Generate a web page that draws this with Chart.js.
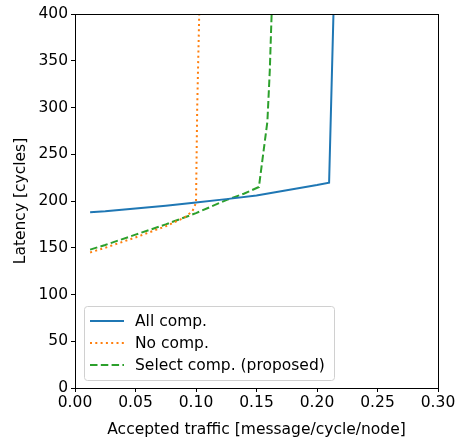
<!DOCTYPE html>
<html>
<head>
<meta charset="utf-8">
<script src="https://cdn.jsdelivr.net/npm/chart.js@4"></script>
<style>
  html, body { margin: 0; padding: 0; background: #fff; }
  #wrap { width: 462px; height: 443px; }
</style>
</head>
<body>
<div id="wrap"><canvas id="latencyChart" width="462" height="443"></canvas></div>
<script>
// values
const allCompX = [0.0125, 0.025, 0.05, 0.075, 0.1, 0.125, 0.15, 0.175, 0.2, 0.21, 0.214];
const allCompY = [188, 189, 192, 195, 198.5, 202, 206, 211.5, 217, 219.5, 420];

const noCompX = [0.0125, 0.025, 0.05, 0.075, 0.09, 0.097, 0.1, 0.101, 0.103];
const noCompY = [145, 150, 161, 173, 182, 189, 198, 300, 420];

const selCompX = [0.0125, 0.025, 0.05, 0.075, 0.1, 0.125, 0.14, 0.152, 0.159, 0.161, 0.163];
const selCompY = [148, 153, 164, 175, 187, 201, 208, 215, 285, 340, 420];

const xTicks = [0, 0.05, 0.1, 0.15, 0.2, 0.25, 0.3];
const yTicks = [0, 50, 100, 150, 200, 250, 300, 350, 400];

const font = { family: 'DejaVu Sans', size: 15.5 };

function pts(xs, ys) {
    return xs.map((x, i) => ({ x: x, y: ys[i] }));
}

// matplotlib-style frame and legend box drawn inside the plot area
const framePlugin = {
    id: 'frame',
    afterDraw(chart) {
        const ctx = chart.ctx;
        const a = chart.chartArea;
        ctx.save();
        ctx.strokeStyle = '#000';
        ctx.lineWidth = 1;
        ctx.strokeRect(a.left + 0.5, a.top + 0.5, a.right - a.left, a.bottom - a.top);

        // legend
        const bx = a.left + 9, by = a.bottom - 82, bw = 250, bh = 74;
        ctx.fillStyle = 'rgba(255,255,255,0.8)';
        ctx.strokeStyle = '#d0d0d0';
        ctx.beginPath();
        ctx.roundRect(bx + 0.5, by + 0.5, bw, bh, 3);
        ctx.fill();
        ctx.stroke();
        ctx.font = '15.5px DejaVu Sans';
        ctx.textBaseline = 'middle';
        chart.data.datasets.forEach((ds, i) => {
            const y = by + 15 + i * 22;
            ctx.strokeStyle = ds.borderColor;
            ctx.lineWidth = ds.borderWidth;
            ctx.setLineDash(ds.borderDash || []);
            ctx.beginPath();
            ctx.moveTo(bx + 6, y);
            ctx.lineTo(bx + 40, y);
            ctx.stroke();
            ctx.setLineDash([]);
            ctx.fillStyle = '#000';
            ctx.fillText(ds.label, bx + 51, y + 1);
        });
        ctx.restore();
    }
};

new Chart(document.getElementById('latencyChart'), {
    type: 'scatter',
    data: {
        datasets: [{
            label: 'All comp.',
            data: pts(allCompX, allCompY),
            borderColor: '#1f77b4',
            backgroundColor: '#1f77b4',
            borderWidth: 2,
            showLine: true,
            pointRadius: 0
        }, {
            label: 'No comp.',
            data: pts(noCompX, noCompY),
            borderColor: '#ff7f0e',
            backgroundColor: '#ff7f0e',
            borderWidth: 2,
            borderDash: [2, 3.3],
            showLine: true,
            pointRadius: 0
        }, {
            label: 'Select comp. (proposed)',
            data: pts(selCompX, selCompY),
            borderColor: '#2ca02c',
            backgroundColor: '#2ca02c',
            borderWidth: 2,
            borderDash: [7.5, 3.3],
            showLine: true,
            pointRadius: 0
        }]
    },
    options: {
        responsive: false,
        animation: false,
        layout: { padding: { top: 14, right: 24, left: 0, bottom: 0 } },
        plugins: {
            legend: { display: false },
            tooltip: { enabled: false }
        },
        scales: {
            x: {
                type: 'linear',
                min: 0,
                max: 0.3,
                afterBuildTicks: (s) => { s.ticks = xTicks.map(v => ({ value: v })); },
                afterFit: (s) => { s.height = 55; },
                ticks: {
                    color: '#000',
                    font: font,
                    padding: 2,
                    maxRotation: 0,
                    callback: (v) => v.toFixed(2)
                },
                grid: { drawOnChartArea: false, drawTicks: true, tickLength: 4, tickColor: '#000' },
                border: { color: '#000' },
                title: { display: true, text: 'Accepted traffic [message/cycle/node]', color: '#000', font: font, padding: { top: 0, bottom: 4 } }
            },
            y: {
                min: 0,
                max: 400,
                afterBuildTicks: (s) => { s.ticks = yTicks.map(v => ({ value: v })); },
                afterFit: (s) => { s.width = 75; },
                ticks: { color: '#000', font: font, padding: 3 },
                grid: { drawOnChartArea: false, drawTicks: true, tickLength: 4, tickColor: '#000' },
                border: { color: '#000' },
                title: { display: true, text: 'Latency [cycles]', color: '#000', font: font, padding: { top: 12, bottom: 0 } }
            }
        }
    },
    plugins: [framePlugin]
});
</script>
</body>
</html>
